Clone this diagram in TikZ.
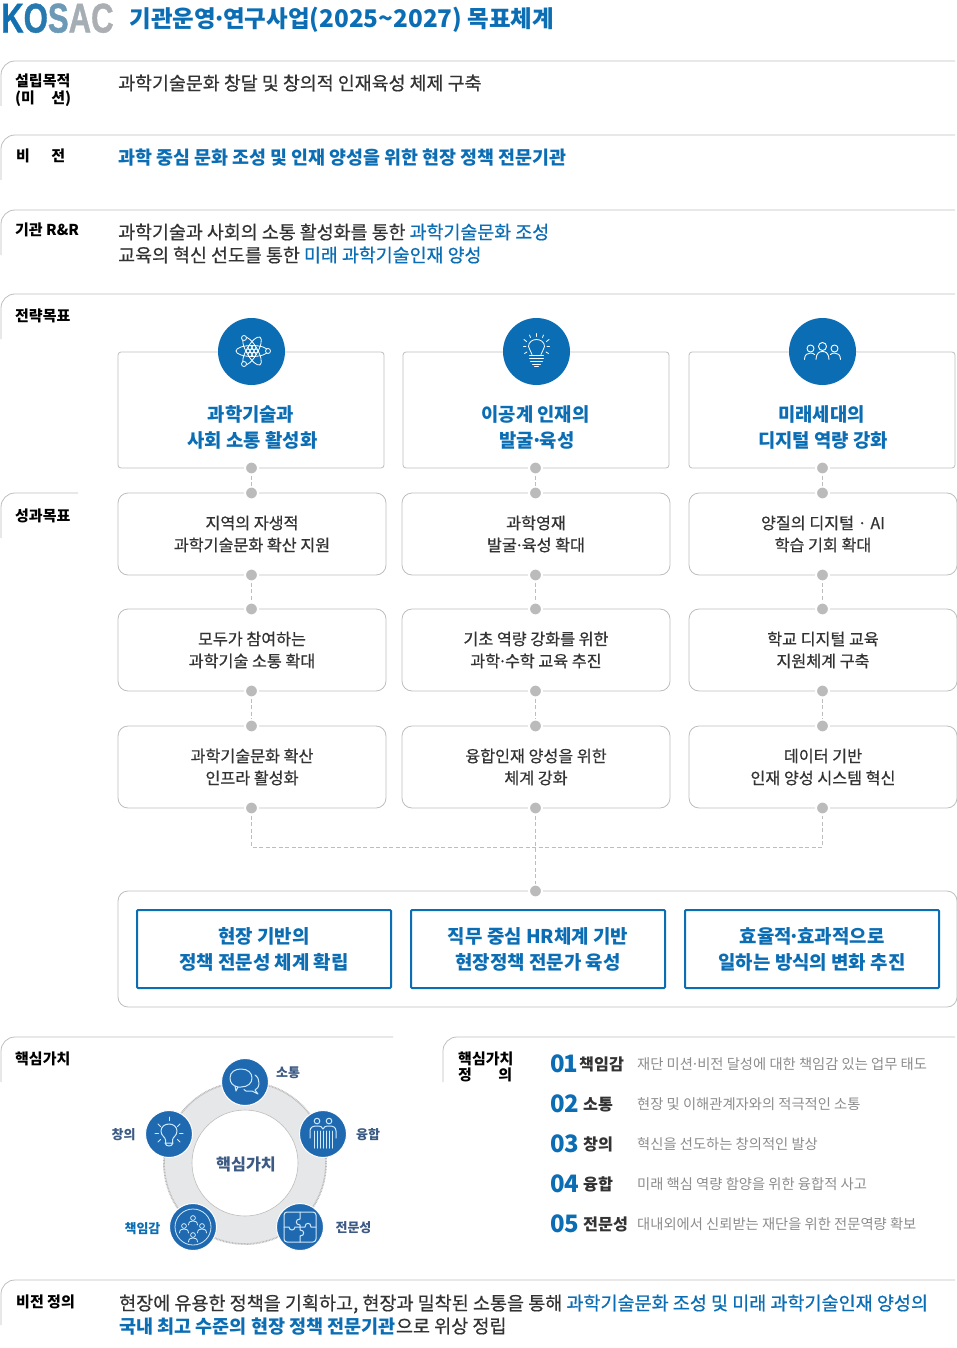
\documentclass[tikz,border=0pt]{standalone}
\usepackage{fontspec}
\usepackage{graphicx}
\setmainfont{Noto Sans CJK KR}
\newfontfamily\kr{Noto Sans CJK KR}
\newfontfamily\krm[FakeBold=0.6]{Noto Sans CJK KR}
\newfontfamily\lat[FakeBold=1.2]{Liberation Sans}
\definecolor{kblue}{HTML}{0B6DB3}
\definecolor{kdark}{HTML}{333333}
\definecolor{kgray}{HTML}{8C8C8C}
\definecolor{kline}{HTML}{BDBDBD}
\definecolor{kdot}{HTML}{BBBBBB}
\definecolor{kcirc}{HTML}{1F69B0}
\definecolor{kslate}{HTML}{3C5A84}
\definecolor{kring}{HTML}{E6E7E9}
\definecolor{kicon}{HTML}{CFE9FA}
\newcommand{\fz}[2]{\fontsize{#1pt}{#2pt}\selectfont}
\newcommand{\md}{\makebox[0.3em]{·}}
\tikzset{
  x=1pt,y=-1pt,
  hdrline/.style={draw=kline,line width=0.8pt,rounded corners=14pt},
  lbl/.style={anchor=base west,inner sep=0pt,font=\kr\bfseries\fz{15}{17},text=black},
  txt/.style={anchor=base west,inner sep=0pt,font=\krm\fz{18.4}{23},text=kdark},
  goalbox/.style={draw=kline,line width=0.8pt,rounded corners=3pt,minimum width=266pt,minimum height=116pt,inner sep=0pt},
  goaltxt/.style={inner sep=0pt,align=center,font=\kr\bfseries\fz{18.8}{26},text=kblue},
  resbox/.style={draw=kline,line width=0.8pt,rounded corners=10pt,minimum width=268pt,minimum height=82pt,inner sep=0pt,align=center,font=\krm\fz{16.2}{22},text=kdark},
  corebox/.style={draw=kblue,line width=2pt,rounded corners=1pt,minimum width=254pt,minimum height=78pt,inner sep=0pt,align=center,font=\kr\bfseries\fz{18.9}{26},text=kblue},
  bigcirc/.style={circle,fill=kblue,minimum size=67pt,inner sep=0pt},
  valcirc/.style={circle,fill=kcirc,draw=white,line width=1pt,minimum size=47pt,inner sep=0pt},
  dotn/.style={circle,fill=kdot,draw=white,line width=2pt,minimum size=13pt,inner sep=0pt},
  conn/.style={draw=kline,line width=0.8pt,dash pattern=on 4pt off 2.5pt},
  ico/.style={draw=white,line width=0.9pt,line cap=round,line join=round},
  ico2/.style={draw=kicon,line width=1pt,line cap=round,line join=round},
  vlab/.style={inner sep=0pt,font=\kr\bfseries\fz{13}{15},text=kslate},
  num/.style={anchor=base west,inner sep=0pt,font=\kr\bfseries\fz{24}{25},text=kblue},
  nam/.style={anchor=base west,inner sep=0pt,font=\kr\bfseries\fz{16.2}{18},text=kdark},
  des/.style={anchor=base west,inner sep=0pt,font=\kr\fz{14.3}{16},text=kgray},
}
\begin{document}
\begin{tikzpicture}
\useasboundingbox (0,0) rectangle (957,1348);
% header
\node[anchor=base west,inner sep=0pt] (logo) at (1,32.5) {\scalebox{0.75}[1]{\lat\bfseries\fz{41.5}{42}\textcolor[HTML]{1270B0}{K}\textcolor[HTML]{2579AF}{O}\textcolor[HTML]{6C9AB6}{S}\textcolor[HTML]{A5AEB5}{A}\textcolor[HTML]{ABAFB3}{C}}};
\node[anchor=base west,inner sep=0pt,font=\kr\bfseries\fz{23.5}{26},text=kblue] (title) at (129.5,27.5) {기관운영\md 연구사업{\fz{24.3}{26}(2025\textasciitilde 2027)} 목표체계};
% section header lines
\draw[hdrline] (1,106) -- (1,61) -- (955,61);
\draw[hdrline] (1,180) -- (1,135) -- (955,135);
\draw[hdrline] (1,255) -- (1,210) -- (955,210);
\draw[hdrline] (1,339) -- (1,294) -- (955,294);
\draw[hdrline] (1,538) -- (1,493) -- (78,493);
\draw[hdrline] (1,1082) -- (1,1037) -- (393,1037);
\draw[hdrline] (443,1082) -- (443,1037) -- (955,1037);
\draw[hdrline] (1,1325) -- (1,1280) -- (955,1280);
% section labels
\node[lbl] (l1) at (15,87) {설립목적};
\node[lbl] (l1b) at (15,104) {\makebox[56pt]{(미\hfill 션)}};
\node[lbl] (l2) at (16,162) {\makebox[49pt]{비\hfill 전}};
\node[lbl] (l3) at (15,236) {기관 R\&R};
\node[lbl] (l4) at (15,321) {전략목표};
\node[lbl] (l5) at (15,521) {성과목표};
\node[lbl] (l6) at (15,1064) {핵심가치};
\node[lbl] (l7) at (458,1064) {핵심가치};
\node[lbl] (l7b) at (458,1080) {\makebox[54pt]{정\hfill 의}};
\node[lbl] (l8) at (16,1307) {비전 정의};
% top texts
\node[txt] (t1) at (118,90) {과학기술문화 창달 및 창의적 인재육성 체제 구축};
\node[txt,font=\kr\bfseries\fz{18.4}{23},text=kblue] (t2) at (118,165) {과학 중심 문화 조성 및 인재 양성을 위한 현장 정책 전문기관};
\node[txt] (t3) at (118,239) {과학기술과 사회의 소통 활성화를 통한 \textcolor{kblue}{과학기술문화 조성}};
\node[txt] (t4) at (118,262) {교육의 혁신 선도를 통한 \textcolor{kblue}{미래 과학기술인재 양성}};
% strategy boxes
\node[goalbox] (s1) at (251,410) {};
\node[goalbox] (s2) at (536,410) {};
\node[goalbox] (s3) at (822,410) {};
\node[goaltxt] (s1t) at (252.5,427) {\hspace*{-3pt}과학기술과\\사회 소통 활성화};
\node[goaltxt] (s2t) at (535.5,427) {이공계 인재의\\\hspace*{3pt}발굴\md 육성};
\node[goaltxt] (s3t) at (823,427) {\hspace*{-3pt}미래세대의\\디지털 역량 강화};
\node[bigcirc] (c1) at (251.5,351.5) {};
\node[bigcirc] (c2) at (536.5,351.5) {};
\node[bigcirc] (c3) at (822.5,351.5) {};
% atom icon
\begin{scope}[shift={(252,351)},ico,line width=0.8pt]
  \draw (0,0) ellipse [x radius=16,y radius=5.5];
  \draw (0,0) ellipse [x radius=16,y radius=5.5,rotate=60];
  \draw (0,0) ellipse [x radius=16,y radius=5.5,rotate=120];
  \foreach \a/\b in {0/0,-4/0,4/0,-2/-3.5,2/-3.5,-2/3.5,2/3.5}{\draw (\a,\b) circle [radius=2];}
  \draw[fill=kblue] (-8,-13) circle [radius=2.5];
  \draw[fill=kblue] (-8,13) circle [radius=2.5];
  \draw[fill=kblue] (16,0) circle [radius=2.5];
\end{scope}
% bulb icon
\begin{scope}[shift={(536.5,351.5)},ico,line width=0.8pt]
  \draw (-4.5,3) .. controls (-4.5,0) and (-8,-1.5) .. (-8,-5) .. controls (-8,-9.5) and (-4,-12) .. (0,-12) .. controls (4,-12) and (8,-9.5) .. (8,-5) .. controls (8,-1.5) and (4.5,0) .. (4.5,3);
  \draw (-7,3.5) -- (7,3.5);
  \draw (-7,6.5) -- (7,6.5);
  \draw (-6,9.5) -- (6,9.5);
  \draw (-4,12.5) -- (4,12.5);
  \draw (-2,15) -- (2,15);
  \foreach \a/\b/\c/\d in {0/-18/0/-15,-7/-16.5/-6/-14,7/-16.5/6/-14,-12.5/-12/-10/-10,12.5/-12/10/-10,-13/-5/-10.5/-5,13/-5/10.5/-5,-12/2/-9.5/0.5,12/2/9.5/0.5}{\draw (\a,\b) -- (\c,\d);}
\end{scope}
% people icon
\begin{scope}[shift={(822.5,351.5)},ico,line width=0.9pt]
  \draw (0,-5) circle [radius=4];
  \draw (-12,-3) circle [radius=3.5];
  \draw (12,-3) circle [radius=3.5];
  \draw (-6.5,8) .. controls (-6,1) and (-3,0) .. (0,0) .. controls (3,0) and (6,1) .. (6.5,8);
  \draw (-18,8) .. controls (-18,3) and (-15,1.5) .. (-12,1.5) .. controls (-10.5,1.5) and (-9,2) .. (-8,3);
  \draw (18,8) .. controls (18,3) and (15,1.5) .. (12,1.5) .. controls (10.5,1.5) and (9,2) .. (8,3);
\end{scope}
% result boxes
\node[resbox] (r11) at (252,534) {지역의 자생적\\과학기술문화 확산 지원};
\node[resbox] (r12) at (536,534) {과학영재\\발굴\md 육성 확대};
\node[resbox] (r13) at (823,534) {양질의 디지털 · AI\\학습 기회 확대};
\node[resbox] (r21) at (252,650) {모두가 참여하는\\과학기술 소통 확대};
\node[resbox] (r22) at (536,650) {기초 역량 강화를 위한\\과학\md 수학 교육 추진};
\node[resbox] (r23) at (823,650) {학교 디지털 교육\\지원체계 구축};
\node[resbox] (r31) at (252,767) {과학기술문화 확산\\인프라 활성화};
\node[resbox] (r32) at (536,767) {융합인재 양성을 위한\\체계 강화};
\node[resbox] (r33) at (823,767) {데이터 기반\\인재 양성 시스템 혁신};
% bottom container
\node[draw=kline,line width=0.8pt,rounded corners=10pt,minimum width=839pt,minimum height=116pt,inner sep=0pt] (cont) at (537.5,949) {};
\node[corebox] (k1) at (264,949) {현장 기반의\\정책 전문성 체계 확립};
\node[corebox] (k2) at (538,949) {직무 중심 HR체계 기반\\현장정책 전문가 육성};
\node[corebox] (k3) at (812,949) {효율적\md 효과적으로\\일하는 방식의 변화 추진};
% dots
\foreach \n/\x in {a/251.5,b/535.5,c/822.5}{
  \node[dotn] (\n0) at (\x,468) {};
  \node[dotn] (\n1) at (\x,493) {};
  \node[dotn] (\n2) at (\x,575) {};
  \node[dotn] (\n3) at (\x,609) {};
  \node[dotn] (\n4) at (\x,691) {};
  \node[dotn] (\n5) at (\x,726) {};
  \node[dotn] (\n6) at (\x,808) {};
  \draw[conn] (\n0) -- (\n1);
  \draw[conn] (\n2) -- (\n3);
  \draw[conn] (\n4) -- (\n5);
}
\node[dotn] (d0) at (535.5,891) {};
\coordinate (jl) at (251.5,847);
\coordinate (jr) at (822.5,847);
\draw[conn] (a6) -- (jl) -- (jr) -- (c6);
\draw[conn] (b6) -- (d0);
% ring
\draw[fill=kring,draw=kdot,line width=1.8pt,dash pattern=on 0.8pt off 0.7pt] (245,1163) circle [radius=81];
\node[circle,fill=white,draw=kline,line width=0.6pt,minimum size=106pt,inner sep=0pt] (core) at (245,1163) {};
\node[inner sep=0pt,font=\kr\bfseries\fz{16.2}{18},text=kslate] (coret) at (246,1164.5) {핵심가치};
\node[valcirc] (v1) at (245,1082) {};
\node[valcirc] (v2) at (323,1134) {};
\node[valcirc] (v3) at (300,1227) {};
\node[valcirc] (v4) at (193,1227) {};
\node[valcirc] (v5) at (169,1134) {};
% speech icon
\begin{scope}[shift={(245,1082)},ico2]
  \draw (-7,5) .. controls (-12,4) and (-15,1) .. (-15,-4) .. controls (-15,-10) and (-10,-13) .. (-4,-13) .. controls (3,-13) and (7,-9) .. (7,-4) .. controls (7,1) and (3,5) .. (-4,5) -- (-7,5) -- (-9,9) -- (-10,4);
  \draw (10,-7) .. controls (13,-5) and (14,-2) .. (14,1) .. controls (14,5) and (12,7) .. (10,8) -- (13,12) -- (7,9) -- (1,9) -- (-1,7.5);
\end{scope}
% people with lines icon
\begin{scope}[shift={(323,1134)},ico2]
  \draw (-6,-13) circle [radius=2.8];
  \draw (6,-13) circle [radius=2.8];
  \draw (-13,4) -- (-13,-3) .. controls (-13,-7) and (-10,-8) .. (-6,-8) .. controls (-2,-8) and (-1,-7) .. (0,-5) .. controls (1,-7) and (2,-8) .. (6,-8) .. controls (10,-8) and (13,-7) .. (13,-3) -- (13,4);
  \foreach \x in {-9,-6,-3,0,3,6,9}{\draw (\x,-3) -- (\x,14);}
\end{scope}
% puzzle icon
\begin{scope}[shift={(300,1227)},ico2]
  \draw[rounded corners=3pt] (-16,-15) rectangle (16,15);
  \draw (0,-15) -- (0,-8) .. controls (-5,-8) and (-5,-2) .. (0,-2) -- (0,0) -- (-5,0) .. controls (-5,4) and (-11,4) .. (-11,0) -- (-16,0);
  \draw (0,0) -- (5,0) .. controls (5,-5) and (11,-5) .. (11,0) -- (16,0);
  \draw (0,0) -- (0,3) .. controls (5,3) and (5,9) .. (0,9) -- (0,15);
\end{scope}
% responsibility icon
\begin{scope}[shift={(193,1227)},ico2,line width=0.8pt]
  \draw (0,0) circle [radius=18];
  \foreach \a/\b in {0/-9,-9/-1,9/-1,0/8}{
    \draw (\a,\b) circle [radius=2.4];
    \draw (\a-4.5,\b+7) .. controls (\a-4.5,\b+3.5) and (\a-2,\b+3) .. (\a,\b+3) .. controls (\a+2,\b+3) and (\a+4.5,\b+3.5) .. (\a+4.5,\b+7);
  }
\end{scope}
% small bulb icon
\begin{scope}[shift={(169,1134)},ico2,line width=1pt]
  \draw (-3.5,9) -- (-3.5,6) .. controls (-3.5,3) and (-8,2) .. (-8,-3) .. controls (-8,-7.5) and (-4,-10) .. (0,-10) .. controls (4,-10) and (8,-7.5) .. (8,-3) .. controls (8,2) and (3.5,3) .. (3.5,6) -- (3.5,9);
  \draw (-4,9) -- (4,9) .. controls (3,13) and (-3,13) .. (-4,9);
  \foreach \a/\b/\c/\d in {-14/-1/-10.5/-1,10.5/-1/14/-1,-11/-10/-8.5/-7.5,11/-10/8.5/-7.5,0/-17/0/-13.5,-11/8/-8.5/5.5,11/8/8.5/5.5}{\draw (\a,\b) -- (\c,\d);}
\end{scope}
% value labels
\node[vlab] (vl1) at (288,1073) {소통};
\node[vlab] (vl2) at (368,1135) {융합};
\node[vlab] (vl3) at (353.5,1228) {전문성};
\node[vlab,text=kblue] (vl4) at (142.5,1229) {책임감};
\node[vlab] (vl5) at (123.5,1135) {창의};
% value list
\node[num] (n1) at (550,1072.5) {0\kern-1.5pt 1};
\node[nam] (m1) at (579,1070) {책임감};
\node[des] (d1) at (637,1069.5) {재단 미션\md 비전 달성에 대한 책임감 있는 업무 태도};
\node[num] (n2) at (550,1112.5) {02};
\node[nam] (m2) at (583,1110) {소통};
\node[des] (d2) at (637,1109.5) {현장 및 이해관계자와의 적극적인 소통};
\node[num] (n3) at (550,1152.5) {03};
\node[nam] (m3) at (583,1150) {창의};
\node[des] (d3) at (637,1149.5) {혁신을 선도하는 창의적인 발상};
\node[num] (n4) at (550,1192.5) {04};
\node[nam] (m4) at (583,1190) {융합};
\node[des] (d4) at (637,1189.5) {미래 핵심 역량 함양을 위한 융합적 사고};
\node[num] (n5) at (550,1232.5) {05};
\node[nam] (m5) at (583,1230) {전문성};
\node[des] (d5) at (637,1229.5) {대내외에서 신뢰받는 재단을 위한 전문역량 확보};
% bottom text
\node[txt,font=\krm\fz{18.52}{23}] (b1) at (119,1310) {현장에 유용한 정책을 기획하고, 현장과 밀착된 소통을 통해 \textcolor{kblue}{과학기술문화 조성 및 미래 과학기술인재 양성의}};
\node[txt,font=\krm\fz{18.52}{23}] (b2) at (119,1333) {{\kr\bfseries\color{kblue}국내 최고 수준의 현장 정책 전문기관}으로 위상 정립};
\end{tikzpicture}
\end{document}
